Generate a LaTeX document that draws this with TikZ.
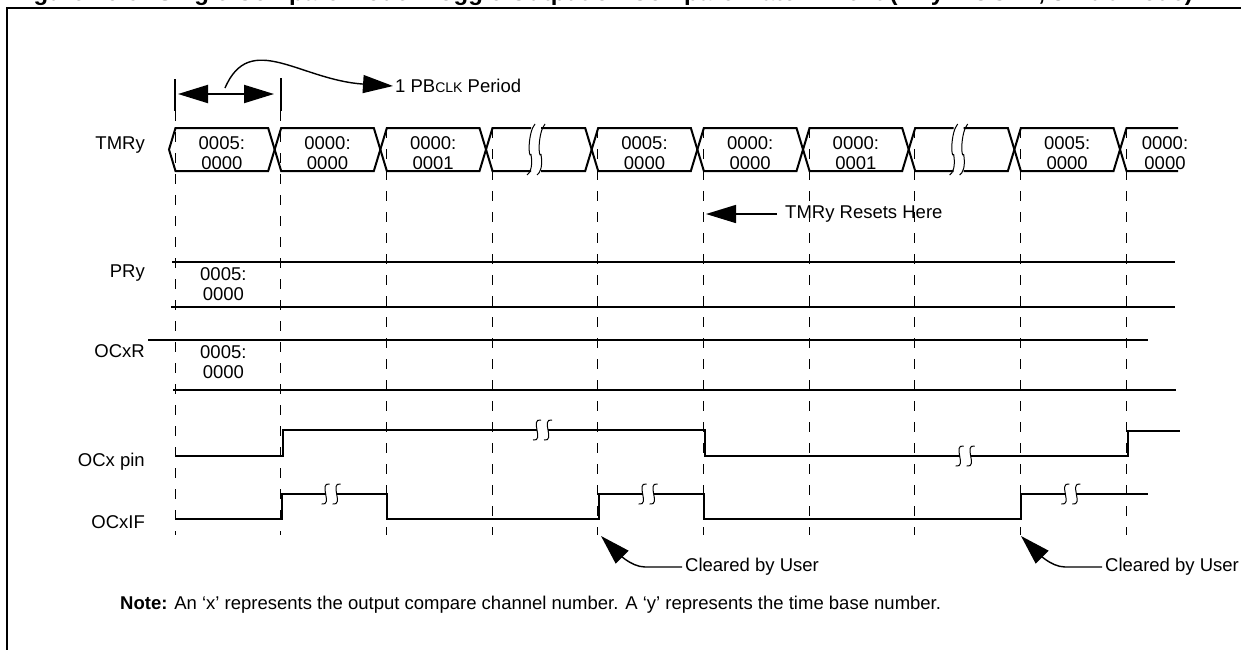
\documentclass[tikz,border=0pt]{standalone}
\usepackage{fontspec}
\setmainfont{Liberation Sans}
\usetikzlibrary{arrows.meta}
\newcommand\diagfont{\fontsize{18.5}{20}\selectfont}
\tikzset{
  sig/.style={line width=2.2pt},
  bus/.style={line width=2pt, line join=miter},
  reg/.style={line width=2.4pt},
  gridl/.style={line width=1pt, dash pattern=on 10pt off 11pt},
  bar/.style={line width=2pt},
  brk/.style={line width=1pt},
  lbl/.style={font=\diagfont, inner sep=0pt},
  val/.style={font=\diagfont, inner sep=0pt, align=center},
  bigarrow/.style={line width=1.6pt, -{Triangle[length=30pt,width=18pt]}},
}
\begin{document}
\begin{tikzpicture}[x=1pt,y=-1pt]
\useasboundingbox (0,0) rectangle (1241,649);
\clip (0,0) rectangle (1241,649);
% title (cut off at the top)
\node[anchor=base west, inner sep=0pt, font=\bfseries\fontsize{24}{28}\selectfont] (title) at (12,0.5)
  {Figure 16-9: Single Compare Mode: Toggle Output on Compare Match Event (PRy = OCxR, 32-bit Mode)};
% frame
\draw[line width=2.5pt] (7,660) -- (7,8) -- (1250,8);
% columns
\def\T{128}\def\B{171}\def\M{149.5}\def\h{6.5}
\foreach \i in {0,...,9}{
  \pgfmathsetmacro\cx{175+105.67*\i}
  \coordinate (c\i) at (\cx,0);
}
% time bars and 1 PBCLK arrow
\draw[bar] (c0 |- 0,79) -- (c0 |- 0,111);
\draw[bar] (c1 |- 0,78) -- (c1 |- 0,111);
\coordinate (da) at (178,94);
\coordinate (db) at (274,94);
\draw[line width=2pt, {Triangle[length=30pt,width=18pt]}-{Triangle[length=30pt,width=18pt]}] (da) -- (db);
\node[lbl, anchor=west, inner sep=2pt] (pb) at (393,86) {1 PB{\fontsize{14}{16}\selectfont CLK} Period};
\coordinate (cs) at (225,88);
\draw[bigarrow, line width=1.4pt] (cs) .. controls (250,30) and (300,80) .. (pb.west);
% dashed column lines
\draw[gridl] (c0 |- 0,111) -- (c0 |- 0,535);
\draw[gridl] (c1 |- 0,111) -- (c1 |- 0,535);
\foreach \i in {2,...,9}{ \draw[gridl] (c\i |- 0,\T) -- (c\i |- 0,535); }
% labels
\node[lbl, anchor=east] (lt) at (145,145) {TMRy};
\node[lbl, anchor=east] (lp) at (145,273) {PRy};
\node[lbl, anchor=east] (lo) at (145,351) {OCxR};
\node[lbl, anchor=east] (lpin) at (145,462) {OCx pin};
\node[lbl, anchor=east] (lif) at (145,522) {OCxIF};
% TMRy bus
\foreach \i/\txt in {0/{0005:\\0000},1/{0000:\\0000},2/{0000:\\0001},4/{0005:\\0000},5/{0000:\\0000},6/{0000:\\0001},8/{0005:\\0000}}{
  \pgfmathsetmacro\xa{175+105.67*\i-6}
  \pgfmathsetmacro\xb{175+105.67*(\i+1)-6}
  \draw[bus] (\xa,\M) -- (\xa+\h,\T) -- (\xb-\h,\T) -- (\xb,\M) -- (\xb-\h,\B) -- (\xa+\h,\B) -- cycle;
  \node[val, anchor=south] (v\i) at ({(\xa+\xb)/2},\B-1) {\txt};
}
\foreach \i in {3,7}{
  \pgfmathsetmacro\xa{175+105.67*\i-6}
  \pgfmathsetmacro\xb{175+105.67*(\i+1)-6}
  \pgfmathsetmacro\ba{175+105.67*\i+39}
  \pgfmathsetmacro\bb{175+105.67*\i+49}
  \draw[bus] (\ba,\T) -- (\xa+\h,\T) -- (\xa,\M) -- (\xa+\h,\B) -- (\ba,\B);
  \draw[bus] (\bb,\T) -- (\xb-\h,\T) -- (\xb,\M) -- (\xb-\h,\B) -- (\bb,\B);
  \foreach \bx in {\ba,\bb}{
    \draw[brk] (\bx+4,\T-4) .. controls (\bx-3,\T+4) and (\bx-3,\B-12) .. (\bx,\M+5) .. controls (\bx+2,\B-4) and (\bx-1,\B+2) .. (\bx-4,\B+4);
  }
}
\pgfmathsetmacro\xa{175+105.67*9-6}
\draw[bus] (1178,\T) -- (\xa+\h,\T) -- (\xa,\M) -- (\xa+\h,\B) -- (1178,\B);
\node[val, anchor=south] (v9) at (1165,\B-1) {0000:\\0000};
% TMRy resets here
\node[lbl, anchor=west] (rst) at (785,214) {TMRy Resets Here};
\draw[bigarrow] (rst.west) ++(-8,0) coordinate (rs) (rs) -- (706,214);
% PRy
\draw[reg] (172,262) -- (1175,262);
\draw[reg] (171,307) -- (1175,307);
\node[val, anchor=north west] (pv) at (200,267) {0005:\\0000};
% OCxR
\draw[reg] (148,340) -- (1148,340);
\draw[reg] (173,390) -- (1176,390);
\node[val, anchor=north west] (ov) at (200,345) {0005:\\0000};
% SS break mark macro
\newcommand\ssmark[2]{%
  \draw[brk] (#1+4,#2-10) .. controls (#1-8,#2-12) and (#1+8,#2+12) .. (#1-4,#2+10);}
% OCx pin
\def\pH{430}\def\pL{456}
\draw[sig] (c0 |- 0,\pL) -- ([xshift=2pt]c1 |- 0,\pL) -- ([xshift=2pt]c1 |- 0,\pH) -- ([xshift=45pt]c3 |- 0,\pH);
\draw[sig] ([xshift=56pt]c3 |- 0,\pH) -- ([xshift=2pt]c5 |- 0,\pH) -- ([xshift=2pt]c5 |- 0,\pL) -- ([xshift=45pt]c7 |- 0,\pL);
\draw[sig] ([xshift=56pt]c7 |- 0,\pL) -- ([xshift=2pt]c9 |- 0,\pL) -- ([xshift=2pt]c9 |- 0,\pH+1) -- (1180,\pH+1);
\pgfmathsetmacro\sa{175+105.67*3+45}\pgfmathsetmacro\sb{175+105.67*3+56}
\ssmark{\sa}{\pH}\ssmark{\sb}{\pH}
\pgfmathsetmacro\sa{175+105.67*7+45}\pgfmathsetmacro\sb{175+105.67*7+56}
\ssmark{\sa}{\pL}\ssmark{\sb}{\pL}
% OCxIF
\def\fH{494}\def\fL{519}
\draw[sig] (c0 |- 0,\fL) -- ([xshift=1pt]c1 |- 0,\fL) -- ([xshift=1pt]c1 |- 0,\fH) -- ([xshift=45pt]c1 |- 0,\fH);
\draw[sig] ([xshift=56pt]c1 |- 0,\fH) -- ([xshift=1pt]c2 |- 0,\fH) -- ([xshift=1pt]c2 |- 0,\fL) -- ([xshift=1pt]c4 |- 0,\fL) -- ([xshift=1pt]c4 |- 0,\fH) -- ([xshift=45pt]c4 |- 0,\fH);
\draw[sig] ([xshift=56pt]c4 |- 0,\fH) -- ([xshift=1pt]c5 |- 0,\fH) -- ([xshift=1pt]c5 |- 0,\fL) -- ([xshift=1pt]c8 |- 0,\fL) -- ([xshift=1pt]c8 |- 0,\fH) -- ([xshift=45pt]c8 |- 0,\fH);
\draw[sig] ([xshift=56pt]c8 |- 0,\fH) -- (1148,\fH);
\foreach \i in {1,4,8}{
  \pgfmathsetmacro\sa{175+105.67*\i+45}\pgfmathsetmacro\sb{175+105.67*\i+56}
  \ssmark{\sa}{\fH}\ssmark{\sb}{\fH}
}
% Cleared by user
\node[lbl, anchor=west] (cu1) at (685,567) {Cleared by User};
\node[lbl, anchor=west] (cu2) at (1105,567) {Cleared by User};
\coordinate (t1) at (601,536);
\coordinate (t2) at (1021,536);
\draw[bigarrow, line width=1.4pt] (cu1.west) ++(-3,0) -- ++(-37,0) .. controls ++(-15,0) and ++(14,14) .. (t1);
\draw[bigarrow, line width=1.4pt] (cu2.west) ++(-3,0) -- ++(-37,0) .. controls ++(-15,0) and ++(14,14) .. (t2);
% note
\node[lbl, anchor=base west] (note) at (120,609) {\textbf{Note:} An ‘x’ represents the output compare channel number. A ‘y’ represents the time base number.};
\end{tikzpicture}
\end{document}
